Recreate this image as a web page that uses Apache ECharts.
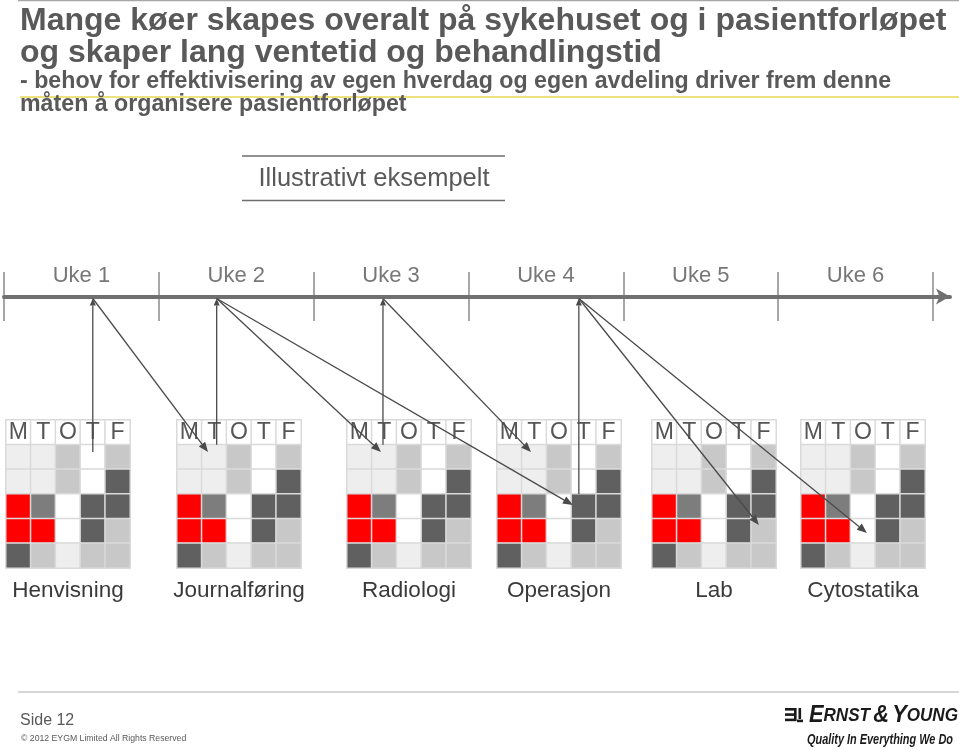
<!DOCTYPE html>
<html><head><meta charset="utf-8">
<style>html,body{margin:0;padding:0;background:#fff}#c{width:959px;height:750px}</style>
<script src="https://cdn.jsdelivr.net/npm/echarts@6.0.0/dist/echarts.min.js"></script>
</head><body><div id="c"></div>
<script>
// ---------- data ----------
const titleLines = ['Mange køer skapes overalt på sykehuset og i pasientforløpet', 'og skaper lang ventetid og behandlingstid'];
const subtitleLines = ['- behov for effektivisering av egen hverdag og egen avdeling driver frem denne', 'måten å organisere pasientforløpet'];
const noteText = 'Illustrativt eksempelt';
const weeks = ['Uke 1', 'Uke 2', 'Uke 3', 'Uke 4', 'Uke 5', 'Uke 6'];
const days = ['M', 'T', 'O', 'T', 'F'];
const processes = ['Henvisning', 'Journalføring', 'Radiologi', 'Operasjon', 'Lab', 'Cytostatika'];
// status code of each slot (row) and weekday: 0 free, 1 light, 2 grey, 3 mid, 4 dark, 5 red
const calendarRows = [
  [1, 1, 2, 0, 2],
  [1, 1, 2, 0, 4],
  [5, 3, 0, 4, 4],
  [5, 5, 0, 4, 2],
  [4, 2, 1, 2, 2]
];
// vertical links: process index, day position, row position (row 0 = header)
const upLinks = [
  { p: 0, day: 3.0, row: 0.8 },
  { p: 1, day: 1.1, row: 0.5 },
  { p: 2, day: 0.95, row: 0.5 },
  { p: 3, day: 2.8, row: 2.5 }
];
// diagonal links: from the timeline point of upLinks[from] to a process slot
const downLinks = [
  { from: 0, p: 1, day: 0.75, row: 0.8 },
  { from: 1, p: 2, day: 0.87, row: 0.8 },
  { from: 1, p: 3, day: 2.56, row: 2.95 },
  { from: 2, p: 3, day: 0.87, row: 0.8 },
  { from: 3, p: 4, day: 3.81, row: 3.76 },
  { from: 3, p: 5, day: 2.16, row: 4.08 }
];
const footerPage = 'Side 12';
const footerCopy = '© 2012 EYGM Limited All Rights Reserved';
const logoTagline = 'Quality In Everything We Do';

// ---------- styles ----------
const FONT = '"Liberation Sans", Arial, sans-serif';
const TXT = '#595959';
const statusColors = ['#ffffff', '#eeeeee', '#c8c8c8', '#7d7d7d', '#606060', '#ff0000'];
const gridLefts = [6, 177, 347, 497, 652, 801];

const chart = echarts.init(document.getElementById('c'), null, { renderer: 'canvas' });

function heatData() {
  const out = [];
  days.forEach((d, i) => out.push([i, 0, 0]));
  calendarRows.forEach((row, r) => row.forEach((v, i) => out.push([i, r + 1, v])));
  return out;
}

const grids = [{ left: 4, top: 272, width: 946, height: 49 }];
const xAxes = [{
  gridIndex: 0, type: 'value', min: 0, max: 6.11, interval: 1,
  axisLine: { show: true, onZero: true, lineStyle: { color: '#707070', width: 4 }, symbol: ['none', 'arrow'], symbolSize: [12, 14] },
  axisTick: { show: false }, axisLabel: { show: false },
  splitLine: { show: true, showMaxLine: false, lineStyle: { color: '#8a8a8a', width: 1.5 } }
}];
const yAxes = [{ gridIndex: 0, type: 'value', min: -1, max: 1, show: false }];
const series = [{
  type: 'scatter', xAxisIndex: 0, yAxisIndex: 0, symbolSize: 0, silent: true,
  data: weeks.map((w, i) => [i + 0.5, 0, w]),
  label: { show: true, position: 'top', distance: 10, formatter: p => p.data[2], fontFamily: FONT, fontSize: 22, color: '#555555' }
}];
processes.forEach((name, k) => {
  grids.push({ left: gridLefts[k], top: 420, width: 124, height: 148 });
  xAxes.push({
    gridIndex: k + 1, type: 'category', data: days.map((d, i) => i), position: 'bottom',
    axisLine: { show: false }, axisTick: { show: false }, axisLabel: { show: false }, splitLine: { show: false },
    name: name, nameLocation: 'middle', nameGap: 11,
    nameTextStyle: { fontFamily: FONT, fontSize: 22.5, color: '#3a3a3a' }
  });
  yAxes.push({
    gridIndex: k + 1, type: 'category', inverse: true, data: [0, 1, 2, 3, 4, 5],
    axisLine: { show: false }, axisTick: { show: false }, axisLabel: { show: false }, splitLine: { show: false }
  });
  series.push({
    type: 'heatmap', xAxisIndex: k + 1, yAxisIndex: k + 1, data: heatData(),
    itemStyle: { borderColor: '#dadada', borderWidth: 1.5 },
    label: { show: true, formatter: p => (p.data[1] === 0 ? days[p.data[0]] : ''), fontFamily: FONT, fontSize: 23, color: '#555555' },
    emphasis: { disabled: true }
  });
});

chart.setOption({
  animation: false,
  backgroundColor: '#ffffff',
  grid: grids, xAxis: xAxes, yAxis: yAxes, series: series,
  visualMap: {
    type: 'piecewise', show: false, dimension: 2, seriesIndex: processes.map((p, i) => i + 1),
    pieces: statusColors.map((c, i) => ({ value: i, color: c }))
  }
});

// ---------- annotations (computed through the axes) ----------
function cellPt(p, d, r) {
  const o = chart.convertToPixel({ gridIndex: p + 1 }, [0, 0]);
  const dx = chart.convertToPixel({ gridIndex: p + 1 }, [1, 0])[0] - o[0];
  const dy = chart.convertToPixel({ gridIndex: p + 1 }, [0, 1])[1] - o[1];
  return [o[0] + d * dx, o[1] + r * dy];
}
const lineY = chart.convertToPixel({ gridIndex: 0 }, [0, 0])[1];
const ARROW = '#4a4a4a';
function arrow(p1, p2, len, half) {
  const vx = p2[0] - p1[0], vy = p2[1] - p1[1];
  const L = Math.hypot(vx, vy), ux = vx / L, uy = vy / L, nx = -uy, ny = ux;
  const bx = p2[0] - ux * len, by = p2[1] - uy * len;
  return [
    { type: 'line', z: 100, shape: { x1: p1[0], y1: p1[1], x2: bx, y2: by }, style: { stroke: ARROW, lineWidth: 1.3 } },
    { type: 'polygon', z: 100, shape: { points: [p2, [bx + nx * half, by + ny * half], [bx - nx * half, by - ny * half]] }, style: { fill: ARROW } }
  ];
}
const els = [];
const anchors = upLinks.map(u => {
  const b = cellPt(u.p, u.day, u.row);
  const t = [b[0], lineY + 2];
  els.push(...arrow(b, t, 7, 3));
  return t;
});
downLinks.forEach(l => {
  els.push(...arrow(anchors[l.from], cellPt(l.p, l.day, l.row), 10, 4));
});

els.push(
  { type: 'line', shape: { x1: 18, y1: 0.5, x2: 959, y2: 0.5 }, style: { stroke: '#a6a6a6', lineWidth: 1.5 } },
  { type: 'line', shape: { x1: 20, y1: 97, x2: 959, y2: 97 }, style: { stroke: '#eee27e', lineWidth: 2 } },
  { type: 'text', x: 20, y: 21, style: { text: titleLines[0], font: 'bold 32px ' + FONT, fill: TXT, verticalAlign: 'middle' } },
  { type: 'text', x: 20, y: 53, style: { text: titleLines[1], font: 'bold 32px ' + FONT, fill: TXT, verticalAlign: 'middle' } },
  { type: 'text', x: 20, y: 81.5, style: { text: subtitleLines[0], font: 'bold 23.2px ' + FONT, fill: TXT, verticalAlign: 'middle' } },
  { type: 'text', x: 20, y: 104.5, style: { text: subtitleLines[1], font: 'bold 23.2px ' + FONT, fill: TXT, verticalAlign: 'middle' } },
  { type: 'line', shape: { x1: 242, y1: 156, x2: 505, y2: 156 }, style: { stroke: '#6e6e6e', lineWidth: 1.5 } },
  { type: 'line', shape: { x1: 242, y1: 200.5, x2: 505, y2: 200.5 }, style: { stroke: '#6e6e6e', lineWidth: 1.5 } },
  { type: 'text', x: 374, y: 179, style: { text: noteText, font: '25.5px ' + FONT, fill: TXT, align: 'center', verticalAlign: 'middle' } },
  // footer
  { type: 'line', shape: { x1: 18, y1: 692, x2: 959, y2: 692 }, style: { stroke: '#c8c8c8', lineWidth: 1.5 } },
  { type: 'text', x: 20, y: 721, style: { text: footerPage, font: '16px ' + FONT, fill: TXT, verticalAlign: 'middle' } },
  { type: 'text', x: 21, y: 739, style: { text: footerCopy, font: '8.7px ' + FONT, fill: TXT, verticalAlign: 'middle' } },
  // logo
  { type: 'rect', shape: { x: 785, y: 708, width: 9, height: 2.6 }, style: { fill: '#1a1a1a' } },
  { type: 'rect', shape: { x: 785, y: 713.3, width: 9, height: 2.6 }, style: { fill: '#1a1a1a' } },
  { type: 'rect', shape: { x: 785, y: 718.6, width: 9, height: 2.6 }, style: { fill: '#1a1a1a' } },
  { type: 'rect', shape: { x: 794, y: 708, width: 2.6, height: 13.2 }, style: { fill: '#1a1a1a' } },
  { type: 'rect', shape: { x: 798.5, y: 708, width: 2.6, height: 11 }, style: { fill: '#1a1a1a' } },
  { type: 'rect', shape: { x: 797, y: 719.6, width: 6, height: 2.6 }, style: { fill: '#1a1a1a' } },
  { type: 'text', x: 958, y: 716, scaleX: 0.95, style: {
      text: '{b|E}{s|RNST} {b|&} {b|Y}{s|OUNG}', align: 'right', verticalAlign: 'middle',
      rich: {
        b: { fontFamily: FONT, fontSize: 23, fontStyle: 'italic', fontWeight: 'bold', fill: '#1a1a1a' },
        s: { fontFamily: FONT, fontSize: 18, fontStyle: 'italic', fontWeight: 'bold', fill: '#1a1a1a' }
      } } },
  { type: 'text', x: 953, y: 740, scaleX: 0.78, style: { text: logoTagline, font: 'italic bold 14px ' + FONT, fill: '#1a1a1a', align: 'right', verticalAlign: 'middle' } }
);
chart.setOption({ graphic: { elements: els } });
</script>
</body></html>
